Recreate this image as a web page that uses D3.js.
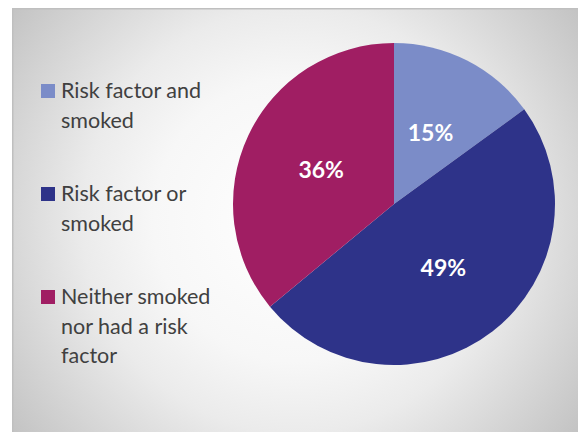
<!DOCTYPE html>
<html>
<head>
<meta charset="utf-8">
<script src="https://cdn.jsdelivr.net/npm/d3@7/dist/d3.min.js"></script>
<style>
  html, body { margin: 0; padding: 0; background: #ffffff; }
  svg { display: block; }
</style>
</head>
<body>
<svg id="chart" width="578" height="432"></svg>
<script>
// Share of patients by smoking / risk-factor status
const categories = ["Risk factor and smoked", "Risk factor or smoked", "Neither smoked nor had a risk factor"];
const legendLines = [["Risk factor and", "smoked"], ["Risk factor or", "smoked"], ["Neither smoked", "nor had a risk", "factor"]];
const values = [15, 49, 36];
const colors = ["#7b8cc8", "#2e3389", "#a01e63"];

const W = 578, H = 432;
const svg = d3.select("#chart");

// Panel with a soft radial grey fill
const defs = svg.append("defs");
const grad = defs.append("radialGradient")
  .attr("id", "panelFill")
  .attr("gradientUnits", "userSpaceOnUse")
  .attr("cx", 295).attr("cy", 220).attr("r", 354);
[[0, "#ffffff"], [0.4, "#f7f7f7"], [0.6, "#ebebeb"], [0.8, "#d7d7d7"], [1, "#c3c3c3"]]
  .forEach(([o, c]) => grad.append("stop").attr("offset", o).attr("stop-color", c));

const panel = { x: 12, y: 8, w: W - 12, h: H - 8 };
svg.append("rect")
  .attr("x", panel.x).attr("y", panel.y)
  .attr("width", panel.w).attr("height", panel.h)
  .attr("fill", "url(#panelFill)");
svg.append("path")
  .attr("d", `M${panel.x + 0.75},${H} V${panel.y + 0.75} H${W}`)
  .attr("fill", "none").attr("stroke", "#bfbfbf").attr("stroke-width", 1.5);

// Pie
const cx = 394, cy = 204, R = 161;
const pie = d3.pie().sort(null).value(d => d)(values);
const arc = d3.arc().innerRadius(0).outerRadius(R);
const labelArc = d3.arc().innerRadius(R * 0.5).outerRadius(R * 0.5);

const g = svg.append("g").attr("transform", `translate(${cx},${cy})`);
g.selectAll("path.slice")
  .data(pie)
  .join("path")
  .attr("class", "slice")
  .attr("d", arc)
  .attr("fill", (d, i) => colors[i]);

g.selectAll("text.pct")
  .data(pie)
  .join("text")
  .attr("class", "pct")
  .attr("transform", d => `translate(${labelArc.centroid(d)})`)
  .attr("text-anchor", "middle")
  .attr("dy", "0.36em")
  .attr("fill", "#ffffff")
  .attr("font-family", "Lato, 'Open Sans', sans-serif")
  .attr("font-weight", 700)
  .attr("font-size", 23)
  .text(d => d.data + "%");

// Legend
const legendY = [84, 187, 290];
const legend = svg.append("g");
categories.forEach((name, i) => {
  const item = legend.append("g").attr("transform", `translate(41,${legendY[i]})`);
  item.append("rect").attr("width", 14).attr("height", 14).attr("fill", colors[i]);
  const t = item.append("text")
    .attr("x", 20).attr("y", 14)
    .attr("fill", "#404040")
    .attr("font-family", "Lato, 'Open Sans', sans-serif")
    .attr("font-size", 21.5);
  legendLines[i].forEach((ln, j) => {
    t.append("tspan").attr("x", 20).attr("dy", j === 0 ? 0 : 29.7).text(ln);
  });
});
</script>
</body>
</html>
